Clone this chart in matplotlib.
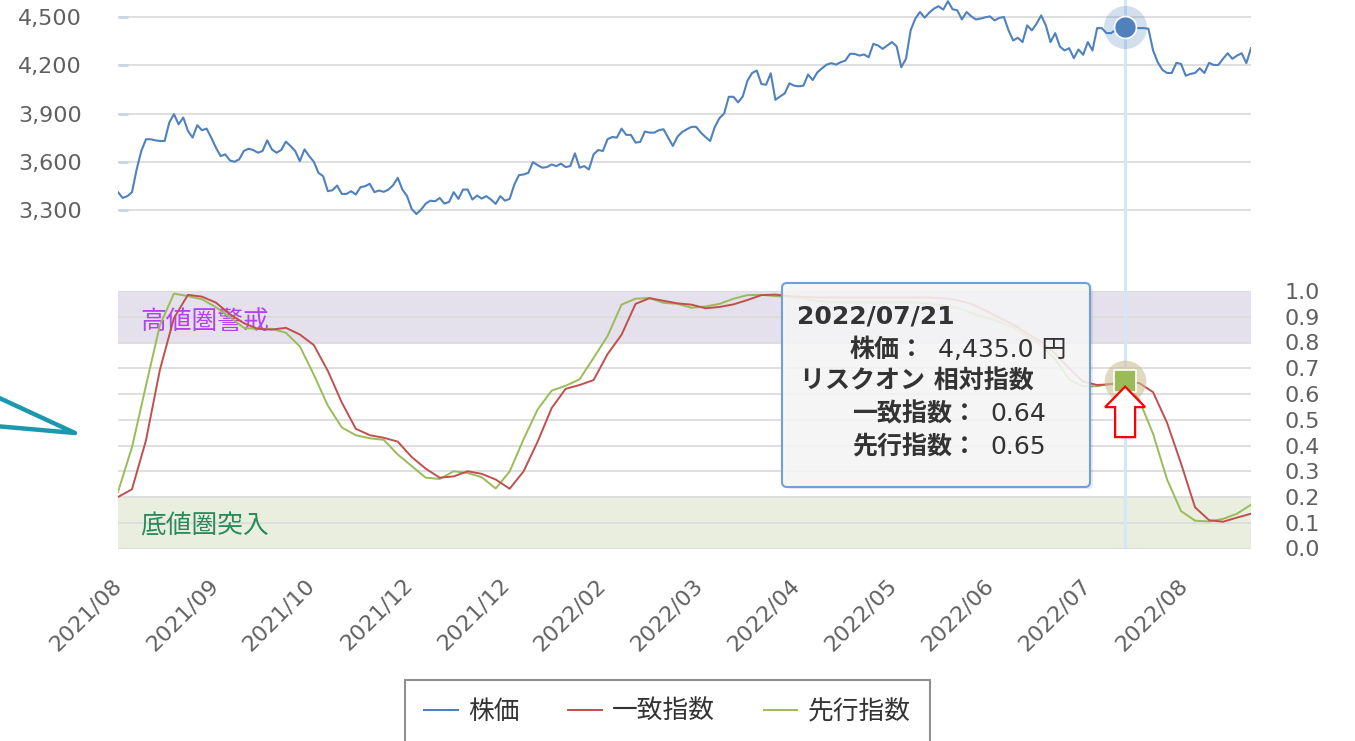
# -*- coding: utf-8 -*-
import matplotlib
matplotlib.use('Agg')
import matplotlib.pyplot as plt
import matplotlib.transforms as mtransforms
from matplotlib.patches import FancyBboxPatch, Polygon
from matplotlib.lines import Line2D
from matplotlib.ticker import FuncFormatter
import numpy as np

plt.rcParams['font.family'] = ['DejaVu Sans', 'Noto Sans CJK JP']

# 株価 (one value per trading day)
price = [
    3411, 3375, 3386, 3411, 3552, 3667, 3740, 3740, 3733, 3729,
    3729, 3844, 3896, 3833, 3875, 3792, 3750, 3827, 3796, 3806,
    3750, 3688, 3635, 3646, 3608, 3600, 3615, 3667, 3681, 3673,
    3656, 3667, 3733, 3677, 3656, 3673, 3725, 3698, 3667, 3604,
    3677, 3635, 3600, 3531, 3510, 3417, 3423, 3452, 3400, 3400,
    3417, 3396, 3442, 3448, 3463, 3411, 3421, 3413, 3427, 3454,
    3500, 3427,
    3386, 3306, 3275, 3302, 3340, 3358, 3354, 3375, 3340, 3350,
    3411, 3369, 3427, 3427, 3365, 3390, 3371, 3386, 3365, 3338,
    3386, 3358, 3369, 3458, 3517, 3521, 3531, 3598, 3579, 3563,
    3567, 3583, 3573, 3588, 3567, 3573, 3652, 3563, 3573, 3552,
    3646, 3673, 3667, 3740, 3754, 3750, 3806, 3767, 3767, 3719,
    3723, 3788, 3781, 3781, 3796, 3802, 3750, 3698, 3756, 3785,
    3802,
    3817, 3817, 3781, 3754, 3729, 3817, 3871, 3900, 4004, 4004,
    3969, 4006, 4104, 4152, 4167, 4083, 4079, 4150, 3985, 4006,
    4025, 4088, 4073, 4069, 4073, 4142, 4108, 4156, 4181, 4204,
    4213, 4204, 4219, 4229, 4271, 4271, 4260, 4267, 4250, 4333,
    4323, 4302, 4323, 4344, 4317, 4188, 4240, 4417, 4490, 4531,
    4496, 4527, 4552, 4567, 4546, 4598, 4548, 4542, 4485, 4531,
    4504, 4485,
    4490, 4498, 4504, 4479, 4494, 4500, 4417, 4354, 4371, 4344,
    4448, 4417, 4458, 4510, 4448, 4344, 4400, 4317, 4292, 4306,
    4244, 4298, 4265, 4344, 4292, 4431, 4431, 4400, 4400, 4420,
    4430, 4435, 4433, 4431, 4431, 4431, 4427, 4292, 4219, 4171,
    4152, 4152, 4215, 4208, 4135, 4146, 4152, 4181, 4152, 4215,
    4202, 4202, 4240, 4275, 4240, 4260, 4275, 4213, 4306,
]

# 一致指数 / 先行指数 (one value every 3 trading days)
itchi = [
    0.20, 0.23, 0.42, 0.695, 0.895, 0.985, 0.978, 0.955, 0.91, 0.875,
    0.853, 0.85, 0.857, 0.831, 0.79, 0.69, 0.567, 0.465, 0.44, 0.43,
    0.415, 0.355, 0.31, 0.275, 0.28, 0.30, 0.29, 0.268, 0.232, 0.30,
    0.415, 0.545, 0.62, 0.635, 0.654, 0.755, 0.83, 0.95, 0.972, 0.962,
    0.952, 0.947, 0.933, 0.938, 0.948, 0.965, 0.984, 0.986, 0.98, 0.977,
    0.975, 0.975, 0.975, 0.975, 0.975, 0.975, 0.975, 0.975, 0.975, 0.972,
    0.965, 0.95, 0.925, 0.896, 0.87, 0.835, 0.803, 0.757, 0.70, 0.648,
    0.635, 0.638, 0.64, 0.643, 0.607, 0.488, 0.33, 0.16, 0.11, 0.104,
    0.12, 0.135,
]
senko = [
    0.22, 0.393, 0.633, 0.868, 0.99, 0.98, 0.968, 0.937, 0.898, 0.857,
    0.852, 0.853, 0.838, 0.785, 0.675, 0.555, 0.47, 0.44, 0.428, 0.422,
    0.365, 0.32, 0.275, 0.27, 0.30, 0.293, 0.277, 0.233, 0.299, 0.425,
    0.54, 0.613, 0.632, 0.657, 0.74, 0.825, 0.947, 0.97, 0.973, 0.954,
    0.95, 0.935, 0.94, 0.95, 0.97, 0.984, 0.985, 0.98, 0.977, 0.97,
    0.962, 0.957, 0.955, 0.955, 0.955, 0.955, 0.955, 0.955, 0.952, 0.945,
    0.935, 0.915, 0.898, 0.88, 0.86, 0.822, 0.79, 0.735, 0.656, 0.63,
    0.63, 0.64, 0.65, 0.578, 0.445, 0.268, 0.145, 0.108, 0.105, 0.115,
    0.135, 0.17,
]
IDX_STEP = 3

x_labels = ['2021/08', '2021/09', '2021/10', '2021/12', '2021/12', '2022/02',
            '2022/03', '2022/04', '2022/05', '2022/06', '2022/07', '2022/08']
TICK_STEP = 20.8

hover_idx = 216
hover_date = '2022/07/21'

BLUE, RED, GREEN = '#4F81BD', '#C0504D', '#9BBB59'
GRID = '#dcdcdc'
LABEL = '#606060'
W, H = 1355, 741


def box(l, t, r, b):
    return [l / W, 1 - b / H, (r - l) / W, (b - t) / H]


def drawChart():
    fig = plt.figure(figsize=(W / 100, H / 100), dpi=100)
    inch = fig.dpi_scale_trans

    ax1 = fig.add_axes(box(118, 0, 1251, 291))
    ax2 = fig.add_axes(box(118, 291, 1251, 548.5))
    n = len(price)
    for ax in (ax1, ax2):
        ax.set_xlim(0, n - 1)
        for s in ax.spines.values():
            s.set_visible(False)
        ax.grid(axis='y', color=GRID, lw=1.3)
        ax.axvline(hover_idx, color='#d6e5f8', lw=2.2, zorder=1.6)

    # --- 株価 ---
    x = np.arange(n)
    l1, = ax1.plot(x, price, color=BLUE, lw=1.5, label='株価', zorder=3)
    ax1.set_ylim(2796.4, 4605.7)
    ax1.set_yticks([3300, 3600, 3900, 4200, 4500])
    ax1.yaxis.set_major_formatter(FuncFormatter(lambda v, p: f'{v:,.0f}'))
    ax1.tick_params(axis='y', direction='in', length=7, width=2, color='#c6d6ea',
                    pad=26, labelsize=16, labelcolor=LABEL)
    ax1.set_xticks([])
    ax1.scatter([hover_idx], [price[hover_idx]], s=960, color=BLUE, alpha=0.25,
                lw=0, zorder=4)
    ax1.scatter([hover_idx], [price[hover_idx]], s=250, color=BLUE,
                edgecolor='white', lw=1.2, zorder=5)

    # --- 相対指数 ---
    xi = np.arange(len(itchi)) * IDX_STEP
    ax2.axhspan(0.8, 1.0, color='#e4e0ec', lw=0, zorder=1)
    ax2.axhspan(0.0, 0.2, color='#eaeedf', lw=0, zorder=1)
    l3, = ax2.plot(xi, senko, color=GREEN, lw=1.4, label='先行指数', zorder=3)
    l2, = ax2.plot(xi, itchi, color=RED, lw=1.4, label='一致指数', zorder=3)
    ax2.set_ylim(0, 1)
    ax2.set_yticks(np.arange(0, 1.01, 0.1))
    ax2.yaxis.set_major_formatter(FuncFormatter(lambda v, p: f'{v:.1f}'))
    ax2.yaxis.tick_right()
    ax2.tick_params(axis='y', length=0, pad=24, labelsize=16, labelcolor=LABEL)
    ax2.set_xticks(np.arange(len(x_labels)) * TICK_STEP)
    ax2.set_xticklabels(x_labels)
    ax2.tick_params(axis='x', length=0, pad=24, labelsize=16, labelcolor=LABEL)
    plt.setp(ax2.get_xticklabels(), rotation=45, ha='right', va='center',
             rotation_mode='anchor')

    band = mtransforms.blended_transform_factory(ax2.transAxes, ax2.transData)
    ax2.text(0.02, 0.88, '高値圏警戒', transform=band, fontsize=18.5,
             color='#b53ff2', va='center', zorder=2)
    ax2.text(0.02, 0.085, '底値圏突入', transform=band, fontsize=18.5,
             color='#2b8a5c', va='center', zorder=2)

    hi = hover_idx // IDX_STEP
    ax2.scatter([hover_idx], [senko[hi]], s=900, color='#cdbf98', alpha=0.6,
                lw=0, zorder=4)
    ax2.scatter([hover_idx], [senko[hi]], s=270, marker='s', color=GREEN,
                edgecolor='white', lw=1.2, zorder=5)

    # --- tooltip ---
    shadow = FancyBboxPatch((7.85, 2.52), 3.08, 2.04,
                            boxstyle='round,pad=0,rounding_size=0.05',
                            transform=inch, fc=(0, 0, 0, 0.08), ec='none', zorder=5)
    tip = FancyBboxPatch((7.82, 2.54), 3.08, 2.04,
                         boxstyle='round,pad=0,rounding_size=0.05',
                         transform=inch, fc=(0.97, 0.97, 0.97, 0.88),
                         ec='#6f9fdc', lw=1.5, zorder=6)
    fig.add_artist(shadow)
    fig.add_artist(tip)

    def ttext(px, py, s, bold=False):
        fig.text(px / 100, (H - py) / 100, s, transform=inch, fontsize=18,
                 fontweight='bold' if bold else 'normal', color='#333333',
                 va='center', zorder=7)

    ttext(797, 316, hover_date, bold=True)
    ttext(850, 350, '株価：', bold=True)
    ttext(938, 350, f'{price[hover_idx]:,.1f} 円')
    ttext(800, 382, 'リスクオン 相対指数', bold=True)
    ttext(852, 414, '一致指数：', bold=True)
    ttext(990, 414, f'{itchi[hi]:.2f}')
    ttext(852, 447, '先行指数：', bold=True)
    ttext(990, 447, f'{senko[hi]:.2f}')

    # red hollow arrow pointing at the hovered marker
    at = inch + mtransforms.ScaledTranslation(hover_idx, senko[hi], ax2.transData)
    arrow = Polygon([(0, -0.055), (0.20, -0.26), (0.10, -0.26), (0.10, -0.56),
                     (-0.10, -0.56), (-0.10, -0.26), (-0.20, -0.26)],
                    closed=True, transform=at, fc='white', ec='#ff0000', lw=1.6,
                    zorder=8)
    fig.add_artist(arrow)

    # teal pen stroke on the left edge
    fig.add_artist(Line2D([-0.05, 0.75, -0.05], [(H - 396) / 100, (H - 433) / 100, (H - 426) / 100],
                          transform=inch, color='#1a98ad', lw=3.2,
                          solid_capstyle='round', solid_joinstyle='round'))

    fig.legend([l1, l2, l3], ['株価', '一致指数', '先行指数'], loc='upper center',
               bbox_to_anchor=(667.5 / W, 1 - 680 / H), ncol=3, fontsize=18.5,
               frameon=True, fancybox=False, edgecolor='#909090', framealpha=1,
               handlelength=1.3, handletextpad=0.4, columnspacing=1.9,
               borderpad=0.75, borderaxespad=0, labelcolor='#333333')
    fig.legends[0].get_frame().set_linewidth(1.5)

    fig.savefig('out.png', dpi=100)


if __name__ == '__main__':
    drawChart()
